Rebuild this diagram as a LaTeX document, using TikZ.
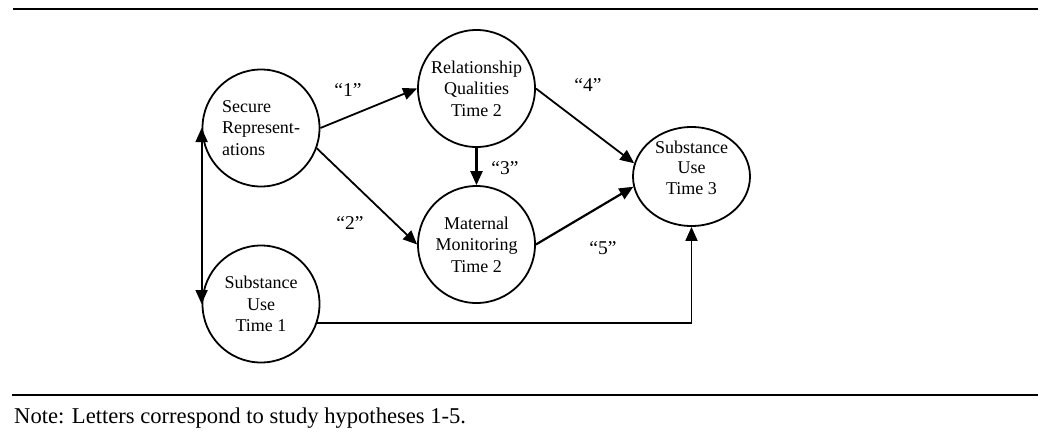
\documentclass[tikz,border=0pt]{standalone}
\usepackage{fontspec}
\setmainfont{Liberation Serif}
\usetikzlibrary{arrows.meta,shapes.geometric}
\begin{document}
\begin{tikzpicture}[x=1pt,y=-1pt,
  var/.style={draw,circle,line width=1.8pt,minimum size=117pt,inner sep=0pt,align=center,
    font=\fontsize{18}{21.5}\selectfont},
  arr/.style={line width=1.8pt,-{Triangle[length=14pt,width=12pt]}},
  dblarr/.style={line width=1.8pt,{Triangle[length=14pt,width=12pt]}-{Triangle[length=14pt,width=12pt]}},
  lab/.style={font=\fontsize{19.5}{22}\selectfont},
  rule/.style={line width=2.2pt}]
\useasboundingbox[fill=white] (0,0) rectangle (1050,434);
\coordinate (t1) at (13,9);
\coordinate (t2) at (1038,9);
\coordinate (b1) at (12,395);
\coordinate (b2) at (1038,395);
\draw[rule] (t1) -- (t2);
\draw[rule] (b1) -- (b2);
\node[var,align=left] (SR) at (261,128) {Secure\\Represent-\\ations};
\node[var] (RQ) at (476.5,88.5) {Relationship\\Qualities\\Time 2};
\node[var] (MM) at (476.5,244.5) {Maternal\\Monitoring\\Time 2};
\node[var] (ST1) at (261,304) {Substance\\Use\\Time 1};
\node[draw,ellipse,line width=1.8pt,minimum width=117pt,minimum height=99pt,inner sep=0pt,
  label={[align=center,yshift=9pt,font=\fontsize{18}{20.5}\selectfont]center:{Substance\\Use\\Time 3}}]
  (ST3) at (691.5,176.5) {};
\draw[arr] (SR.east) -- (RQ.west);
\draw[arr] (SR.-20) -- (MM.west);
\draw[arr,line width=2.3pt] (RQ.south) -- (MM.north);
\draw[arr] (RQ.east) -- (ST3.167);
\draw[arr,line width=2.2pt] (MM.east) -- (ST3.190);
\draw[arr] (ST1.-19) -| (ST3.south);
\draw[dblarr] (SR.west) -- (ST1.west);
\node[lab] (l1) at (348,90) {“1”};
\node[lab] (l2) at (350,223) {“2”};
\node[lab] (l3) at (505,168) {“3”};
\node[lab] (l4) at (588,85) {“4”};
\node[lab] (l5) at (603,248) {“5”};
\node[anchor=base west,inner sep=0pt,font=\fontsize{22.6}{26}\selectfont] (note) at (14,423)
  {Note: Letters correspond to study hypotheses 1-5.};
\end{tikzpicture}
\end{document}
